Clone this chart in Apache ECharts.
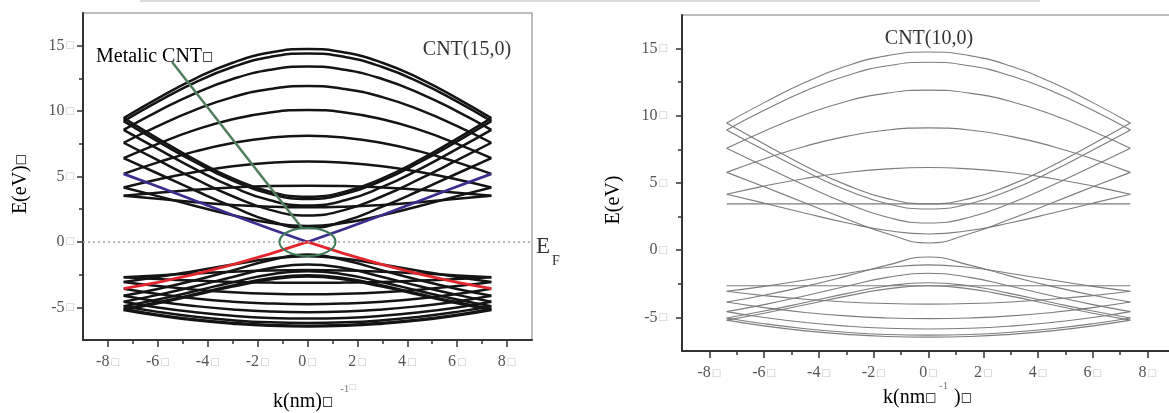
<!DOCTYPE html>
<html>
<head>
<meta charset="utf-8">
<script src="https://cdn.jsdelivr.net/npm/echarts@6/dist/echarts.min.js"></script>
<style>
  html, body { margin: 0; padding: 0; background: #fff; }
  #chart { width: 1169px; height: 413px; }
</style>
</head>
<body>
<div id="chart"></div>
<script>
// Wave-vector samples along the tube axis (nm^-1), edge of the 1D zone at ±7.37
const kGrid = [-7.37, -6, -4.5, -3, -1.5, 0, 1.5, 3, 4.5, 6, 7.37];

// CNT(15,0): conduction subbands (eV), one row per band
const cnt15Conduction = [
  [9.46, 10.98, 12.49, 13.70, 14.48, 14.75, 14.48, 13.70, 12.49, 10.98, 9.46],
  [9.23, 10.72, 12.20, 13.37, 14.14, 14.40, 14.14, 13.37, 12.20, 10.72, 9.23],
  [8.57, 9.98, 11.36, 12.45, 13.16, 13.41, 13.16, 12.45, 11.36, 9.98, 8.57],
  [7.58, 8.85, 10.09, 11.07, 11.69, 11.91, 11.69, 11.07, 10.09, 8.85, 7.58],
  [6.40, 7.50, 8.56, 9.38, 9.90, 10.08, 9.90, 9.38, 8.56, 7.50, 6.40],
  [5.20, 6.08, 6.92, 7.56, 7.97, 8.11, 7.97, 7.56, 6.92, 6.08, 5.20],
  [4.16, 4.77, 5.34, 5.78, 6.05, 6.15, 6.05, 5.78, 5.34, 4.77, 4.16],
  [3.53, 3.76, 3.99, 4.16, 4.27, 4.30, 4.27, 4.16, 3.99, 3.76, 3.53],
  [3.53, 3.29, 3.04, 2.83, 2.69, 2.64, 2.69, 2.83, 3.04, 3.29, 3.53],
  [4.16, 3.50, 2.75, 2.04, 1.46, 1.21, 1.46, 2.04, 2.75, 3.50, 4.16],
  [6.40, 5.23, 3.93, 2.69, 1.60, 1.06, 1.60, 2.69, 3.93, 5.23, 6.40],
  [7.58, 6.25, 4.81, 3.49, 2.45, 2.02, 2.45, 3.49, 4.81, 6.25, 7.58],
  [8.57, 7.11, 5.57, 4.20, 3.18, 2.78, 3.18, 4.20, 5.57, 7.11, 8.57],
  [9.23, 7.69, 6.09, 4.69, 3.67, 3.28, 3.67, 4.69, 6.09, 7.69, 9.23],
  [9.46, 7.90, 6.27, 4.86, 3.84, 3.45, 3.84, 4.86, 6.27, 7.90, 9.46]
];

// CNT(15,0): valence subbands (eV)
const cnt15Valence = [
  [-5.20, -5.63, -6.00, -6.26, -6.42, -6.47, -6.42, -6.26, -6.00, -5.63, -5.20],
  [-5.13, -5.56, -5.93, -6.19, -6.35, -6.41, -6.35, -6.19, -5.93, -5.56, -5.13],
  [-4.92, -5.35, -5.72, -5.99, -6.15, -6.20, -6.15, -5.99, -5.72, -5.35, -4.92],
  [-4.57, -5.01, -5.38, -5.65, -5.81, -5.86, -5.81, -5.65, -5.38, -5.01, -4.57],
  [-4.12, -4.55, -4.91, -5.17, -5.33, -5.38, -5.33, -5.17, -4.91, -4.55, -4.12],
  [-3.58, -3.98, -4.33, -4.57, -4.71, -4.76, -4.71, -4.57, -4.33, -3.98, -3.58],
  [-3.06, -3.38, -3.65, -3.85, -3.97, -4.01, -3.97, -3.85, -3.65, -3.38, -3.06],
  [-2.71, -2.84, -2.96, -3.06, -3.11, -3.13, -3.11, -3.06, -2.96, -2.84, -2.71],
  [-2.71, -2.56, -2.41, -2.28, -2.18, -2.15, -2.18, -2.28, -2.41, -2.56, -2.71],
  [-3.06, -2.69, -2.22, -1.73, -1.29, -1.09, -1.29, -1.73, -2.22, -2.69, -3.06],
  [-4.12, -3.60, -2.93, -2.18, -1.41, -0.97, -1.41, -2.18, -2.93, -3.60, -4.12],
  [-4.57, -4.05, -3.39, -2.68, -2.02, -1.72, -2.02, -2.68, -3.39, -4.05, -4.57],
  [-4.92, -4.40, -3.76, -3.08, -2.49, -2.24, -2.49, -3.08, -3.76, -4.40, -4.92],
  [-5.13, -4.62, -3.99, -3.33, -2.78, -2.55, -2.78, -3.33, -3.99, -4.62, -5.13],
  [-5.20, -4.69, -4.06, -3.42, -2.88, -2.65, -2.88, -3.42, -4.06, -4.69, -5.20]
];

// CNT(15,0): the metallic pair that crosses at the Fermi level
const cnt15MetallicUpper = [5.20, 4.24, 3.14, 2.05, 1.00, 0, 1.00, 2.05, 3.14, 4.24, 5.20];
const cnt15MetallicLower = [-3.58, -3.10, -2.47, -1.74, -0.92, 0, -0.92, -1.74, -2.47, -3.10, -3.58];

// CNT(10,0): conduction subbands (eV)
const cnt10Conduction = [
  [9.46, 10.98, 12.49, 13.70, 14.48, 14.75, 14.48, 13.70, 12.49, 10.98, 9.46],
  [8.95, 10.41, 11.84, 12.98, 13.72, 13.98, 13.72, 12.98, 11.84, 10.41, 8.95],
  [7.58, 8.85, 10.09, 11.07, 11.69, 11.91, 11.69, 11.07, 10.09, 8.85, 7.58],
  [5.79, 6.79, 7.74, 8.47, 8.94, 9.10, 8.94, 8.47, 7.74, 6.79, 5.79],
  [4.16, 4.77, 5.34, 5.78, 6.05, 6.15, 6.05, 5.78, 5.34, 4.77, 4.16],
  [3.45, 3.45, 3.45, 3.45, 3.45, 3.45, 3.45, 3.45, 3.45, 3.45, 3.45],
  [4.16, 3.50, 2.75, 2.04, 1.46, 1.21, 1.46, 2.04, 2.75, 3.50, 4.16],
  [5.79, 4.72, 3.51, 2.32, 1.22, 0.54, 1.22, 2.32, 3.51, 4.72, 5.79],
  [7.58, 6.25, 4.81, 3.49, 2.45, 2.02, 2.45, 3.49, 4.81, 6.25, 7.58],
  [8.95, 7.45, 5.87, 4.48, 3.46, 3.07, 3.46, 4.48, 5.87, 7.45, 8.95],
  [9.46, 7.90, 6.27, 4.86, 3.84, 3.45, 3.84, 4.86, 6.27, 7.90, 9.46]
];

// CNT(10,0): valence subbands (eV)
const cnt10Valence = [
  [-5.20, -5.63, -6.00, -6.26, -6.42, -6.47, -6.42, -6.26, -6.00, -5.63, -5.20],
  [-5.04, -5.47, -5.84, -6.11, -6.27, -6.32, -6.27, -6.11, -5.84, -5.47, -5.04],
  [-4.57, -5.01, -5.38, -5.65, -5.81, -5.86, -5.81, -5.65, -5.38, -5.01, -4.57],
  [-3.86, -4.27, -4.63, -4.89, -5.04, -5.09, -5.04, -4.89, -4.63, -4.27, -3.86],
  [-3.06, -3.38, -3.65, -3.85, -3.97, -4.01, -3.97, -3.85, -3.65, -3.38, -3.06],
  [-2.65, -2.65, -2.65, -2.65, -2.65, -2.65, -2.65, -2.65, -2.65, -2.65, -2.65],
  [-3.06, -2.69, -2.22, -1.73, -1.29, -1.09, -1.29, -1.73, -2.22, -2.69, -3.06],
  [-3.86, -3.35, -2.69, -1.93, -1.11, -0.51, -1.11, -1.93, -2.69, -3.35, -3.86],
  [-4.57, -4.05, -3.39, -2.68, -2.02, -1.72, -2.02, -2.68, -3.39, -4.05, -4.57],
  [-5.04, -4.53, -3.89, -3.23, -2.66, -2.42, -2.66, -3.23, -3.89, -4.53, -5.04],
  [-5.20, -4.69, -4.06, -3.42, -2.88, -2.65, -2.88, -3.42, -4.06, -4.69, -5.20]
];

// Axis ticks
const xTicks = [-8, -6, -4, -2, 0, 2, 4, 6, 8];
const xMinorTicks = [-7, -5, -3, -1, 1, 3, 5, 7];
const yTicks = [-5, 0, 5, 10, 15];
const yMinorTicks = [-2.5, 2.5, 7.5, 12.5];

// Annotations on the (15,0) panel, in data units
const fermiLevel = 0;
const metallicPointer = [[-5.43, 13.75], [-0.22, 1.06]];

const serif = "'Liberation Serif', 'Times New Roman', serif";
const boxFont = "'DejaVu Sans', sans-serif";
const BOX = '\u25A1';

const tickRich = {
  n: { fontFamily: serif, fontSize: 16, color: '#555' },
  b: { fontFamily: boxFont, fontSize: 10, color: '#c6c6c6', padding: [0, 0, 0, 1] }
};
const tickFormatter = v => `{n|${v}}{b|${BOX}}`;

function mainX(grid) {
  return {
    type: 'value', gridIndex: grid, min: -9, max: 9, position: 'bottom',
    axisLine: { show: true, onZero: false, lineStyle: { color: '#333', width: 2 } },
    axisTick: { show: true, inside: false, length: 7, customValues: xTicks, lineStyle: { color: '#333', width: 1.5 } },
    axisLabel: { show: true, customValues: xTicks, margin: 14, formatter: tickFormatter, rich: tickRich },
    splitLine: { show: false }
  };
}
function minorX(grid) {
  return {
    type: 'value', gridIndex: grid, min: -9, max: 9, position: 'bottom',
    axisLine: { show: false, onZero: false },
    axisTick: { show: true, inside: false, length: 4, customValues: xMinorTicks, lineStyle: { color: '#333', width: 1.5 } },
    axisLabel: { show: false },
    splitLine: { show: false }
  };
}
function mainY(grid, margin) {
  return {
    type: 'value', gridIndex: grid, min: -7.5, max: 17.5, position: 'left',
    axisLine: { show: true, onZero: false, lineStyle: { color: '#333', width: 2 } },
    axisTick: { show: true, inside: false, length: 6, customValues: yTicks, lineStyle: { color: '#333', width: 1.5 } },
    axisLabel: { show: true, customValues: yTicks, margin: margin, formatter: tickFormatter, rich: tickRich },
    splitLine: { show: false }
  };
}
function minorY(grid) {
  return {
    type: 'value', gridIndex: grid, min: -7.5, max: 17.5, position: 'left',
    axisLine: { show: false, onZero: false },
    axisTick: { show: true, inside: false, length: 4, customValues: yMinorTicks, lineStyle: { color: '#333', width: 1.5 } },
    axisLabel: { show: false },
    splitLine: { show: false }
  };
}

function band(values, axis, lineStyle, smooth, z) {
  return {
    type: 'line', xAxisIndex: axis, yAxisIndex: axis,
    data: kGrid.map((k, i) => [k, values[i]]),
    symbol: 'none', smooth: smooth, silent: true,
    lineStyle: lineStyle, z: z
  };
}

const thick = { color: '#141414', width: 2.5 };
const thin = { color: '#7c7c7c', width: 1.1 };

const series = [];
cnt15Conduction.concat(cnt15Valence).forEach(b => series.push(band(b, 0, thick, 0.5, 2)));
cnt10Conduction.concat(cnt10Valence).forEach(b => series.push(band(b, 2, thin, 0.5, 2)));

const upper = band(cnt15MetallicUpper, 0, { color: '#3b2d8e', width: 2.7 }, false, 4);
upper.markLine = {
  silent: true, symbol: ['none', 'none'], label: { show: false }, animation: false,
  data: [
    { yAxis: fermiLevel, lineStyle: { color: '#a6a6a6', width: 1.5, type: [2, 3] } },
    [
      { coord: metallicPointer[0], lineStyle: { color: '#4f7d5d', width: 2.5, type: 'solid' } },
      { coord: metallicPointer[1] }
    ]
  ]
};
series.push(upper);
series.push(band(cnt15MetallicLower, 0, { color: '#e3262b', width: 2.8 }, false, 4));

const chart = echarts.init(document.getElementById('chart'), null, { renderer: 'canvas' });

const gridBase = { show: true, borderColor: '#a9a9a9', borderWidth: 1.5, backgroundColor: 'transparent', containLabel: false, outerBoundsMode: 'none' };

chart.setOption({
  animation: false,
  backgroundColor: '#fff',
  grid: [
    Object.assign({ left: 83, top: 13, width: 449, height: 327 }, gridBase),
    Object.assign({ left: 682, top: 15, width: 493, height: 336 }, gridBase)
  ],
  xAxis: [mainX(0), minorX(0), mainX(1), minorX(1)],
  yAxis: [mainY(0, 8), minorY(0), mainY(1, 14), minorY(1)],
  series: series
});

// Circle around the crossing point, centred on (k = 0, E_F)
const centre = chart.convertToPixel({ xAxisIndex: 0, yAxisIndex: 0 }, [0, fermiLevel]);

const nameRich = {
  t: { fontFamily: serif, fontSize: 20, color: '#444' },
  b: { fontFamily: boxFont, fontSize: 12, color: '#c6c6c6' }
};

chart.setOption({
  graphic: [
    { type: 'rect', shape: { x: 140, y: 0, width: 900, height: 2 }, style: { fill: '#dcdcdc' }, silent: true },
    {
      type: 'ellipse', shape: { cx: centre[0], cy: centre[1], rx: 28, ry: 14 },
      style: { fill: 'none', stroke: '#3f7a58', lineWidth: 2 }, z: 10, silent: true
    },
    { type: 'text', x: 467, y: 50, style: { text: 'CNT(15,0)', font: `20px ${serif}`, fill: '#333', align: 'center', verticalAlign: 'middle' } },
    { type: 'text', x: 929, y: 39, style: { text: 'CNT(10,0)', font: `20px ${serif}`, fill: '#333', align: 'center', verticalAlign: 'middle' } },
    {
      type: 'text', x: 96, y: 57, z: 10,
      style: {
        text: `{t|Metalic CNT}{b|${BOX}}`, align: 'left', verticalAlign: 'middle',
        rich: { t: { fontFamily: serif, fontSize: 20, color: '#5b8866' }, b: { fontFamily: boxFont, fontSize: 12, color: '#c9d6cc' } }
      }
    },
    { type: 'text', x: 536, y: 247, style: { text: 'E', font: `23px ${serif}`, fill: '#333', align: 'left', verticalAlign: 'middle' } },
    { type: 'text', x: 552, y: 261, style: { text: 'F', font: `14px ${serif}`, fill: '#333', align: 'left', verticalAlign: 'middle' } },
    {
      type: 'text', x: 21, y: 184, rotation: Math.PI / 2,
      style: { text: `{t|E(eV)}{b|${BOX}}`, align: 'center', verticalAlign: 'middle', rich: nameRich }
    },
    {
      type: 'text', x: 614, y: 200, rotation: Math.PI / 2,
      style: { text: '{t|E(eV)}', align: 'center', verticalAlign: 'middle', rich: nameRich }
    },
    {
      type: 'text', x: 273, y: 402,
      style: { text: `{t|k(nm)}{b|${BOX}}`, align: 'left', verticalAlign: 'middle', rich: nameRich }
    },
    { type: 'text', x: 340, y: 389, style: { text: '-1', font: `11px ${serif}`, fill: '#777', align: 'left', verticalAlign: 'middle' } },
    { type: 'text', x: 349, y: 387, style: { text: BOX, font: `8px ${boxFont}`, fill: '#cfcfcf', align: 'left', verticalAlign: 'middle' } },
    {
      type: 'text', x: 883, y: 398,
      style: { text: `{t|k(nm}{b|${BOX}}`, align: 'left', verticalAlign: 'middle', rich: nameRich }
    },
    { type: 'text', x: 939, y: 386, style: { text: '-1', font: `11px ${serif}`, fill: '#777', align: 'left', verticalAlign: 'middle' } },
    {
      type: 'text', x: 954, y: 398,
      style: { text: `{t|)}{b|${BOX}}`, align: 'left', verticalAlign: 'middle', rich: nameRich }
    }
  ]
});
</script>
</body>
</html>
